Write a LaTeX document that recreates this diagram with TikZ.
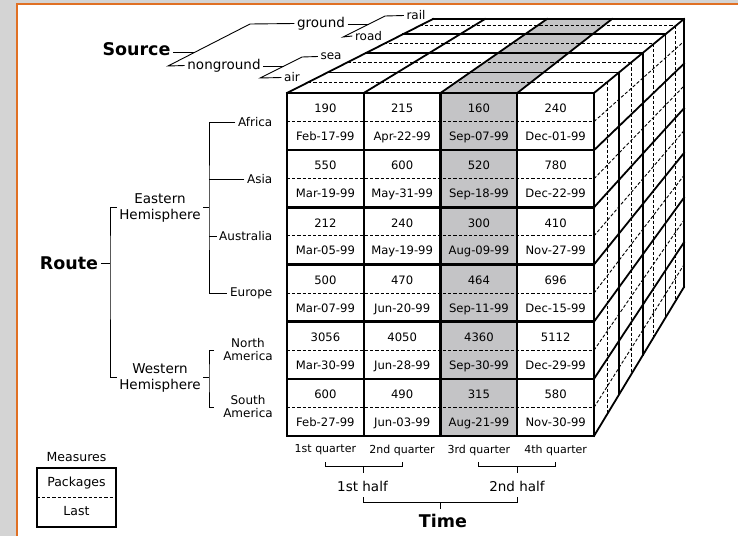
\documentclass[tikz,border=0pt]{standalone}
\usepackage{fontspec}
\setmainfont{DejaVu Sans}
\usetikzlibrary{calc}

\definecolor{panelgray}{RGB}{212,212,212}
\definecolor{frameorange}{RGB}{224,112,36}
\definecolor{slicegray}{RGB}{196,196,198}

\newcommand{\setfs}[2]{\fontsize{#1}{#2}\selectfont}

\tikzset{
  faceline/.style={line width=2.4pt, line cap=rect, line join=miter},
  slabline/.style={line width=1.8pt, line cap=rect, line join=miter},
  measureline/.style={line width=0.9pt, dash pattern=on 3.2pt off 2pt},
  treeline/.style={line width=0.9pt},
  lbl/.style={inner sep=2.5pt, font=\setfs{12}{13}},
  hemi/.style={inner sep=2.5pt, align=center, font=\setfs{13.5}{16}},
  subregion/.style={inner sep=2.5pt, align=center, font=\setfs{12}{13}},
  branch/.style={inner sep=2.5pt, font=\setfs{13.5}{15}},
  leaf/.style={inner sep=2.5pt, font=\setfs{12}{13}},
  quarterlbl/.style={inner sep=2.5pt, font=\setfs{11}{12}},
  halflbl/.style={inner sep=2.5pt, font=\setfs{13.5}{15}},
  dimtitle/.style={inner sep=2.5pt, font=\bfseries\setfs{17.5}{20}},
  celltext/.style={inner sep=0pt, anchor=base, font=\setfs{11.6}{13}},
}

% one row of the front face: row index, four package counts, four dates
\newcommand{\cuberow}[9]{%
  \foreach \col/\cnum/\cdate in {0/#2/#6,1/#3/#7,2/#4/#8,3/#5/#9}{%
    \node[celltext] (num-#1-\col) at ({325.4+76.75*\col},{93+57.1667*#1+19.7}) {\cnum};
    \node[celltext] (date-#1-\col) at ({325.4+76.75*\col},{93+57.1667*#1+47.5}) {\cdate};
  }%
}

\begin{document}
\begin{tikzpicture}[x=1pt,y=-1pt]
\useasboundingbox (0,0) rectangle (738,536);

% window panel
\fill[panelgray] (0,0) rectangle (738,536);
\fill[white] (17,4) rectangle (738,536);
\draw[frameorange, line width=2pt] (17,536) -- (17,4) -- (738,4);

% ---------- cube geometry ----------
% top face: front and back ends of each column boundary
\foreach \k/\bx in {0/433,1/485,2/547,3/612,4/684}{
  \coordinate (F\k) at ({287+76.75*\k},93);
  \coordinate (B\k) at (\bx,19);
}
% right face: front edge and back edge
\coordinate (RT0) at (594,93);  \coordinate (RB0) at (594,436);
\coordinate (RT1) at (684,19);  \coordinate (RB1) at (684,287);

% highlighted third quarter
\fill[slicegray] (440.5,93) rectangle (517.25,436);
\fill[slicegray] (F2) -- (F3) -- (B3) -- (B2) -- cycle;

% measure splits inside each source slab (top and right faces)
\foreach \f in {0.145,0.415,0.665,0.91}{
  \draw[measureline] ($(F0)!\f!(B0)$) -- ($(F4)!\f!(B4)$);
  \draw[measureline] ($(RT0)!\f!(RT1)$) -- ($(RB0)!\f!(RB1)$);
}
% measure splits of each route row on the right face
\foreach \k in {0,...,5}{
  \pgfmathsetmacro\vv{(\k+0.5)/6}
  \draw[measureline] ($(RT0)!\vv!(RB0)$) -- ($(RT1)!\vv!(RB1)$);
}
% measure splits on the front face
\foreach \k in {0,...,5}{
  \pgfmathsetmacro\yy{93+57.1667*(\k+0.5)}
  \draw[measureline] (287,\yy) -- (594,\yy);
}

% slab boundaries on the top and right faces
\foreach \f in {0.278,0.54,0.795,1}{
  \draw[slabline] ($(F0)!\f!(B0)$) -- ($(F4)!\f!(B4)$);
  \draw[slabline] ($(RT0)!\f!(RT1)$) -- ($(RB0)!\f!(RB1)$);
}
% column boundaries on the top face
\foreach \k in {0,...,4}{
  \draw[slabline] (F\k) -- (B\k);
}
% row boundaries on the right face
\foreach \k in {1,...,6}{
  \pgfmathsetmacro\vv{\k/6}
  \draw[slabline] ($(RT0)!\vv!(RB0)$) -- ($(RT1)!\vv!(RB1)$);
}

% front face grid
\foreach \k in {1,...,5}{
  \pgfmathsetmacro\yy{93+57.1667*\k}
  \draw[faceline] (287,\yy) -- (594,\yy);
}
\foreach \k in {1,2,3}{
  \draw[faceline] ({287+76.75*\k},93) -- ({287+76.75*\k},436);
}
\draw[faceline] (287,93) rectangle (594,436);

% cell values
\cuberow{0}{190}{215}{160}{240}{Feb-17-99}{Apr-22-99}{Sep-07-99}{Dec-01-99}
\cuberow{1}{550}{600}{520}{780}{Mar-19-99}{May-31-99}{Sep-18-99}{Dec-22-99}
\cuberow{2}{212}{240}{300}{410}{Mar-05-99}{May-19-99}{Aug-09-99}{Nov-27-99}
\cuberow{3}{500}{470}{464}{696}{Mar-07-99}{Jun-20-99}{Sep-11-99}{Dec-15-99}
\cuberow{4}{3056}{4050}{4360}{5112}{Mar-30-99}{Jun-28-99}{Sep-30-99}{Dec-29-99}
\cuberow{5}{600}{490}{315}{580}{Feb-27-99}{Jun-03-99}{Aug-21-99}{Nov-30-99}

% ---------- Source hierarchy ----------
\node[dimtitle] (source) at (136.5,49.5) {Source};
\node[branch] (ground) at (321,23.5) {ground};
\node[branch] (nonground) at (224,65.5) {nonground};
\node[leaf] (rail) at (416,15.5) {rail};
\node[leaf] (road) at (368.5,36) {road};
\node[leaf] (sea) at (331,56.5) {sea};
\node[leaf] (air) at (292,77.5) {air};

\coordinate (sLow) at (168,66);   \coordinate (sHigh) at (250,24);
\coordinate (sJoin) at (195.3,52);
\draw[treeline] (ground.west) -- (sHigh) -- (sLow) -- (nonground.west);
\draw[treeline] (source.east |- sJoin) -- (sJoin);

\coordinate (gLow) at (343,37);   \coordinate (gHigh) at (385,16);
\coordinate (gJoin) at (369,24);
\draw[treeline] (rail.west) -- (gHigh) -- (gLow) -- (road.west);
\draw[treeline] (ground.east |- gJoin) -- (gJoin);

\coordinate (nLow) at (260,78);   \coordinate (nHigh) at (302,57);
\coordinate (nJoin) at (284,66);
\draw[treeline] (sea.west) -- (nHigh) -- (nLow) -- (air.west);
\draw[treeline] (nonground.east |- nJoin) -- (nJoin);

% ---------- Route hierarchy ----------
\node[dimtitle] (route) at (69,263) {Route};
\node[hemi] (eastH) at (160,207.5) {Eastern\\Hemisphere};
\node[hemi] (westH) at (160,377.5) {Western\\Hemisphere};
\node[lbl, anchor=east] (africa) at (275,122) {Africa};
\node[lbl, anchor=east] (asia) at (275,179.5) {Asia};
\node[lbl, anchor=east] (australia) at (275,236.5) {Australia};
\node[lbl, anchor=east] (europe) at (275,293.5) {Europe};
\node[subregion] (namer) at (248,350) {North\\America};
\node[subregion] (samer) at (248,407) {South\\America};

\coordinate (rbar) at (110,263);
\draw[treeline] (route.east) -- (rbar);
\draw[treeline] (eastH.west) -| (rbar) |- (westH.west);

\coordinate (ebar) at (209,207.5);
\draw[treeline] (eastH.east) -- (ebar);
\draw[treeline] (africa.west) -| (ebar) |- (europe.west);
\draw[treeline] (asia.west) -- (asia.west -| ebar);
\draw[treeline] (australia.west) -- (australia.west -| ebar);

\coordinate (wbar) at (209,377.5);
\draw[treeline] (westH.east) -- (wbar);
\draw[treeline, shorten <=6.5pt, shorten >=6.5pt] (namer.west) -| (wbar) |- (samer.west);

% ---------- Time hierarchy ----------
\node[quarterlbl] (q1) at (325.4,450) {1st quarter};
\node[quarterlbl] (q2) at (402.1,450) {2nd quarter};
\node[quarterlbl] (q3) at (478.9,450) {3rd quarter};
\node[quarterlbl] (q4) at (555.6,450) {4th quarter};
\node[halflbl] (half1) at (362.5,486) {1st half};
\node[halflbl] (half2) at (517,486) {2nd half};
\node[dimtitle] (time) at (443,521) {Time};

\coordinate (qTop) at (0,462);  \coordinate (qBar) at (0,466);  \coordinate (qTip) at (0,473);
\coordinate (hTop) at (0,497);  \coordinate (hBar) at (0,502);  \coordinate (hTip) at (0,509);
\coordinate (m1) at ($(q1.south)!0.5!(q2.south)$);
\coordinate (m2) at ($(q3.south)!0.5!(q4.south)$);
\coordinate (m3) at ($(m1)!0.5!(m2)$);

\draw[treeline] (q1.south |- qTop) -- (q1.south |- qBar) -- (q2.south |- qBar) -- (q2.south |- qTop);
\draw[treeline] (m1 |- qBar) -- (m1 |- qTip);
\draw[treeline] (q3.south |- qTop) -- (q3.south |- qBar) -- (q4.south |- qBar) -- (q4.south |- qTop);
\draw[treeline] (m2 |- qBar) -- (m2 |- qTip);
\draw[treeline] (m1 |- hTop) -- (m1 |- hBar) -- (m2 |- hBar) -- (m2 |- hTop);
\draw[treeline] (m3 |- hBar) -- (m3 |- hTip);

% ---------- Measures legend ----------
\node[lbl, font=\setfs{12.5}{14}] (measures) at (76.5,457) {Measures};
\node[minimum width=79pt, minimum height=59pt, inner sep=0pt] (mbox) at (76.5,497.5) {};
\draw[measureline] (mbox.west) -- (mbox.east);
\draw[line width=2.2pt] (mbox.south west) rectangle (mbox.north east);
\node[lbl, font=\setfs{12.5}{14}] (packages) at (76.5,483) {Packages};
\node[lbl, font=\setfs{12.5}{14}] (last) at (76.5,511) {Last};

\end{tikzpicture}
\end{document}
